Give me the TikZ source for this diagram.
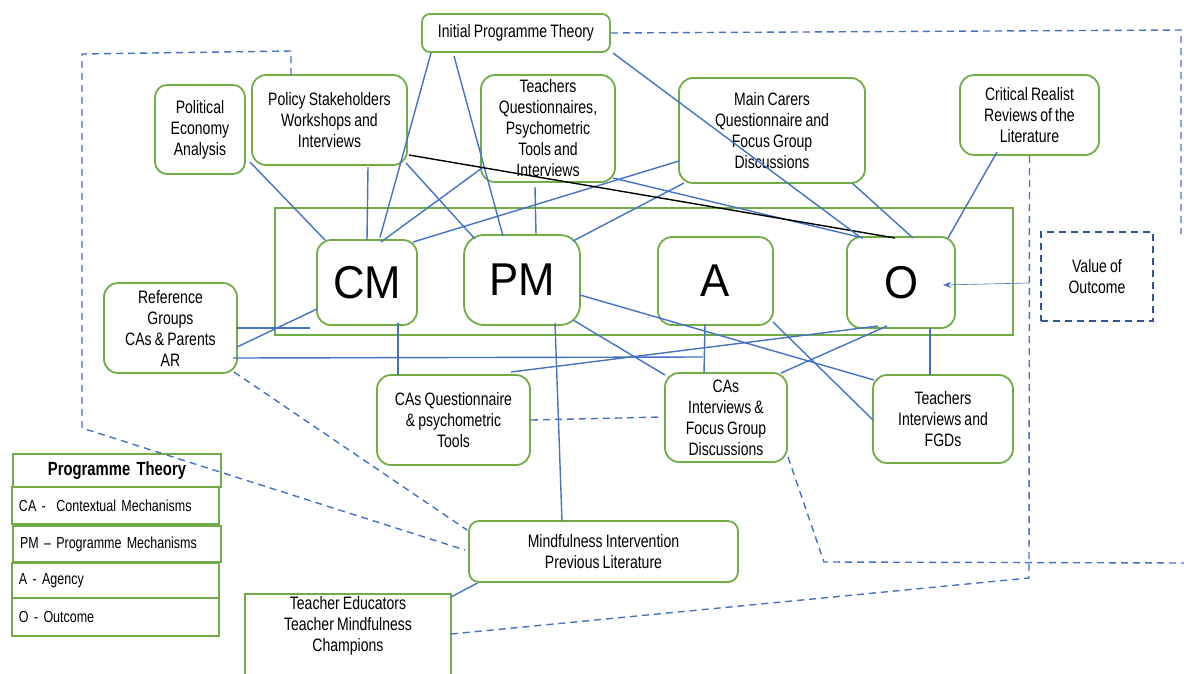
\documentclass[tikz,border=0pt]{standalone}
\usepackage{fontspec}
\setmainfont{Liberation Sans}[FakeStretch=0.78,WordSpace=0.8]
\newfontfamily\bigfont{Liberation Sans}[FakeStretch=0.95]
\usetikzlibrary{arrows.meta}
\definecolor{gr}{HTML}{70AD47}
\definecolor{bl}{HTML}{4472C4}
\definecolor{dbl}{HTML}{2F5597}
\newcommand\ptfnt{\fontsize{16}{19}\selectfont\spaceskip=0.2em\relax}
\begin{document}
\begin{tikzpicture}[x=1pt,y=-1pt,
  box/.style={draw=gr, line width=1.8pt, rounded corners=14pt, align=center, inner sep=0pt,
              font=\fontsize{18}{21}\selectfont},
  bigbox/.style={box, font=\bigfont\fontsize{46}{50}\selectfont},
  ptrow/.style={draw=gr, line width=1.8pt, inner ysep=0pt, inner xsep=7pt, align=left,
              font=\ptfnt},
  con/.style={draw=bl, line width=1.4pt},
  blk/.style={draw=black, line width=1.4pt},
  dsh/.style={draw=bl, line width=1.4pt, dash pattern=on 7pt off 5pt},
]
\useasboundingbox (0,0) rectangle (1184,673);

% frame round the four mechanisms
\node[draw=gr, line width=1.8pt, minimum width=738pt, minimum height=127pt, inner sep=0pt] (BIG) at (644,271.5) {};

% boxes
\node[box, rounded corners=8pt, minimum width=188pt, minimum height=38pt] (IPT) at (516,33) {Initial Programme Theory};
\node[box, rounded corners=12pt, minimum width=90pt, minimum height=89pt] (PEA) at (200,129.5) {Political\\Economy\\Analysis};
\node[box, minimum width=155pt, minimum height=90pt] (PS) at (329.5,120) {Policy Stakeholders\\Workshops and\\Interviews};
\node[box, minimum width=134pt, minimum height=107pt] (TQ) at (548,128.5) {Teachers\\Questionnaires,\\Psychometric\\Tools and\\Interviews};
\node[box, minimum width=186pt, minimum height=105pt] (MC) at (772,130.5) {Main Carers\\Questionnaire and\\Focus Group\\Discussions};
\node[box, minimum width=139pt, minimum height=80pt] (CR) at (1029.5,115) {Critical Realist\\Reviews of the\\Literature};

\node[bigbox, minimum width=100pt, minimum height=85pt] (CM) at (367,282.5) {CM};
\node[bigbox, rounded corners=20pt, minimum width=116pt, minimum height=90pt] (PM) at (522,280) {PM};
\node[bigbox, minimum width=115pt, minimum height=88pt] (A) at (715.5,281) {A};
\node[bigbox, minimum width=108pt, minimum height=91pt] (O) at (901,282.5) {O};

\node[draw=dbl, line width=1.4pt, dash pattern=on 7pt off 5pt, minimum width=112pt, minimum height=89pt,
      align=center, inner sep=0pt, font=\fontsize{18}{21}\selectfont] (VO) at (1097,276.5) {Value of\\Outcome};

\node[box, minimum width=133pt, minimum height=90pt] (RG) at (170.5,328) {Reference\\Groups\\CAs \& Parents\\AR};
\node[box, minimum width=153pt, minimum height=90pt] (CAQ) at (453.5,420) {CAs Questionnaire\\\& psychometric\\Tools};
\node[box, minimum width=122pt, minimum height=89pt] (CAI) at (726,417.5) {CAs\\Interviews \&\\Focus Group\\Discussions};
\node[box, minimum width=140pt, minimum height=88pt] (TI) at (943,419) {Teachers\\Interviews and\\FGDs};
\node[box, rounded corners=10pt, minimum width=269pt, minimum height=61pt] (MI) at (603.5,551.5) {Mindfulness Intervention\\Previous Literature};
\node[align=center, inner sep=0pt, minimum width=206pt, minimum height=81pt,
      font=\fontsize{18}{21}\selectfont] (TE) at (348,634.5) {Teacher Educators\\Teacher Mindfulness\\Champions\\\mbox{}};
\draw[draw=gr, line width=1.8pt] (TE.south west) -- (TE.north west) -- (TE.north east) -- (TE.south east);

% programme theory key
\node[ptrow, align=center, minimum width=208pt, minimum height=33pt, text width=194pt,
      font=\bfseries\fontsize{19}{22}\selectfont] (PTt) at (117,470.5) {Programme Theory};
\node[ptrow, minimum height=37pt, text width=193pt] (PT1) at (115.5,505.5) {CA -\ \ Contextual Mechanisms};
\node[ptrow, minimum height=36pt, text width=194pt] (PT2) at (117,544) {PM -- Programme Mechanisms};
\node[ptrow, minimum height=35pt, text width=193pt] (PT3) at (115.5,580.5) {A - Agency};
\node[ptrow, minimum height=38pt, text width=193pt] (PT4) at (115.5,617) {O - Outcome};

% solid connectors
\draw[con] ([shift={(50,32.5)}]PEA.center) -- ([shift={(-42,-42.5)}]CM.center);
\draw[con] ([shift={(38.5,47)}]PS.center) -- ([shift={(0,-42.5)}]CM.center);
\draw[con] ([shift={(-85,20)}]IPT.center) -- ([shift={(13,-45)}]CM.center);
\draw[con] ([shift={(-62,23)}]IPT.center) -- ([shift={(-19,-44)}]PM.center);
\draw[con] ([shift={(76.5,43)}]PS.center) -- ([shift={(-47,-41)}]PM.center);
\draw[con] ([shift={(-66,39.5)}]TQ.center) -- ([shift={(14,-40.5)}]CM.center);
\draw[con] ([shift={(-93,30.5)}]MC.center) -- ([shift={(46,-40.5)}]CM.center);
\draw[con] ([shift={(-13,58.5)}]TQ.center) -- ([shift={(14,-46)}]PM.center);
\draw[con] ([shift={(-88,52.5)}]MC.center) -- ([shift={(51,-39)}]PM.center);
\draw[con] ([shift={(65,49.5)}]TQ.center) -- ([shift={(-38,-44.5)}]O.center);
\draw[blk] ([shift={(79.5,35)}]PS.center) -- ([shift={(-6,-44.5)}]O.center);
\draw[con] ([shift={(97,20)}]IPT.center) -- ([shift={(-41,-45.5)}]O.center);
\draw[con] ([shift={(80,52.5)}]MC.center) -- ([shift={(12,-44.5)}]O.center);
\draw[con] ([shift={(-32.5,37)}]CR.center) -- ([shift={(47,-44.5)}]O.center);
\draw[draw=bl, line width=0.6pt, -{Stealth[length=8pt,width=6pt]}] ([shift={(-68,6.5)}]VO.center) -- ([shift={(42,2.5)}]O.center);

\draw[con] ([shift={(66.5,0)}]RG.center) -- ([shift={(-334,56.5)}]BIG.center);
\draw[con] ([shift={(66.5,19)}]RG.center) -- ([shift={(-50,26.5)}]CM.center);
\draw[con] ([shift={(62.5,30)}]RG.center) -- ([shift={(-23,-60.5)}]CAI.center);
\draw[con] ([shift={(31,40.5)}]CM.center) -- ([shift={(-55.5,-45)}]CAQ.center);
\draw[con] ([shift={(57.5,-48)}]CAQ.center) -- ([shift={(-23,43.5)}]O.center);
\draw[con] ([shift={(33,43)}]PM.center) -- ([shift={(-41.5,-30.5)}]MI.center);
\draw[con] ([shift={(51,40)}]PM.center) -- ([shift={(-61,-42.5)}]CAI.center);
\draw[con] ([shift={(58,15)}]PM.center) -- ([shift={(-69,-39)}]TI.center);
\draw[con] ([shift={(-10.5,43)}]A.center) -- ([shift={(-22,-44.5)}]CAI.center);
\draw[con] ([shift={(57.5,41)}]A.center) -- ([shift={(-70,1)}]TI.center);
\draw[con] ([shift={(-14,43.5)}]O.center) -- ([shift={(55,-44.5)}]CAI.center);
\draw[con] ([shift={(29,45.5)}]O.center) -- ([shift={(-13,-44)}]TI.center);
\draw[con] ([shift={(-126,31.5)}]MI.center) -- ([shift={(103,-37.5)}]TE.center);

% dashed connectors
\coordinate (d3a) at (291,51);
\coordinate (d3b) at (82,54);
\coordinate (d3c) at (82,428);
\coordinate (d4a) at (1181,30);
\coordinate (d4end) at (1181,234);
\coordinate (d5a) at (1029,578);
\coordinate (d6a) at (824,562);
\coordinate (d6end) at (1184,563);
\draw[dsh] ([shift={(77.5,0)}]CAQ.center) -- ([shift={(-64,-0.5)}]CAI.center);
\draw[dsh] ([shift={(63.5,44)}]RG.center) -- ([shift={(-136.5,-21.5)}]MI.center);
\draw[dsh] ([shift={(-38.5,-45)}]PS.center) -- (d3a) -- (d3b) -- (d3c) -- ([shift={(-138.5,-1.5)}]MI.center);
\draw[dsh] (IPT.east) -- (d4a) -- (d4end);
\draw[dsh] (CR.south) -- (d5a) -- ([shift={(103,-0.5)}]TE.center);
\draw[dsh] ([shift={(62,39.5)}]CAI.center) -- (d6a) -- (d6end);
\end{tikzpicture}
\end{document}
